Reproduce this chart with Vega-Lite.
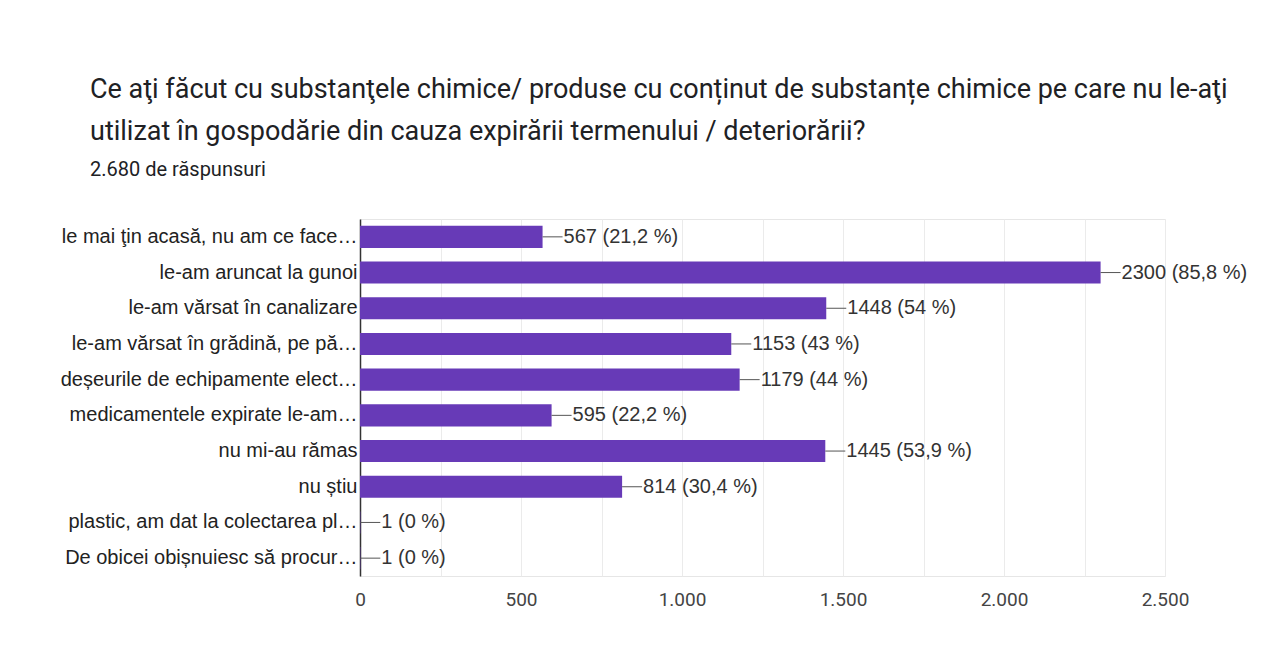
{
  "$schema": "https://vega.github.io/schema/vega-lite/v6.json",
  "autosize": {"type": "none"},
  "background": "#FFFFFF",
  "width": 805,
  "height": 357,
  "padding": {"left": 360, "top": 219, "right": 115, "bottom": 93},
  "title": {
    "text": [
      "Ce aţi făcut cu substanţele chimice/ produse cu conținut de substanțe chimice pe care nu le-aţi",
      "utilizat în gospodărie din cauza expirării termenului / deteriorării?"
    ],
    "subtitle": "2.680 de răspunsuri",
    "anchor": "start",
    "frame": "group",
    "dx": -270,
    "offset": 38,
    "font": "Roboto",
    "fontSize": 27,
    "fontWeight": "normal",
    "lineHeight": 42,
    "color": "#202124",
    "subtitleFont": "Roboto",
    "subtitleFontSize": 20,
    "subtitleColor": "#202124",
    "subtitlePadding": 14
  },
  "data": {
    "values": [
      {"answer": "le mai ţin acasă, nu am ce face…", "count": 567, "label": "567 (21,2 %)"},
      {"answer": "le-am aruncat la gunoi", "count": 2300, "label": "2300 (85,8 %)"},
      {"answer": "le-am vărsat în canalizare", "count": 1448, "label": "1448 (54 %)"},
      {"answer": "le-am vărsat în grădină, pe pă…", "count": 1153, "label": "1153 (43 %)"},
      {"answer": "deșeurile de echipamente elect…", "count": 1179, "label": "1179 (44 %)"},
      {"answer": "medicamentele expirate le-am…", "count": 595, "label": "595 (22,2 %)"},
      {"answer": "nu mi-au rămas", "count": 1445, "label": "1445 (53,9 %)"},
      {"answer": "nu știu", "count": 814, "label": "814 (30,4 %)"},
      {"answer": "plastic, am dat la colectarea pl…", "count": 1, "label": "1 (0 %)"},
      {"answer": "De obicei obișnuiesc să procur…", "count": 1, "label": "1 (0 %)"}
    ]
  },
  "encoding": {
    "y": {
      "field": "answer",
      "type": "nominal",
      "sort": null,
      "title": null,
      "scale": {"paddingInner": 0.38, "paddingOuter": 0.19},
      "axis": {
        "ticks": false,
        "grid": false,
        "domainColor": "#333333",
        "domainWidth": 1.5,
        "labelFont": "Liberation Sans",
        "labelFontSize": 20,
        "labelColor": "#222222",
        "labelPadding": 3,
        "labelLimit": 400
      }
    }
  },
  "layer": [
    {
      "mark": {"type": "bar", "color": "#673ab7"},
      "encoding": {
        "x": {
          "field": "count",
          "type": "quantitative",
          "title": null,
          "scale": {"domain": [0, 2500], "nice": false},
          "axis": {
            "values": [0, 250, 500, 750, 1000, 1250, 1500, 1750, 2000, 2250, 2500],
            "labelExpr": "datum.value % 500 === 0 ? replace(format(datum.value, ',d'), ',', '.') : ''",
            "labelFlush": false,
            "ticks": false,
            "domain": false,
            "grid": true,
            "gridColor": "#ebebeb",
            "labelFont": "Roboto",
            "labelFontSize": 19,
            "labelColor": "#444444",
            "labelPadding": 14
          }
        }
      }
    },
    {
      "mark": {"type": "rule", "color": "#555555", "strokeWidth": 1, "x2Offset": 20},
      "encoding": {
        "x": {"field": "count", "type": "quantitative"},
        "x2": {"field": "count"}
      }
    },
    {
      "mark": {
        "type": "text",
        "align": "left",
        "baseline": "middle",
        "dx": 21,
        "font": "Liberation Sans",
        "fontSize": 20,
        "color": "#333333"
      },
      "encoding": {
        "x": {"field": "count", "type": "quantitative"},
        "text": {"field": "label"}
      }
    }
  ],
  "config": {
    "view": {"stroke": "#e6e6e6"}
  }
}
